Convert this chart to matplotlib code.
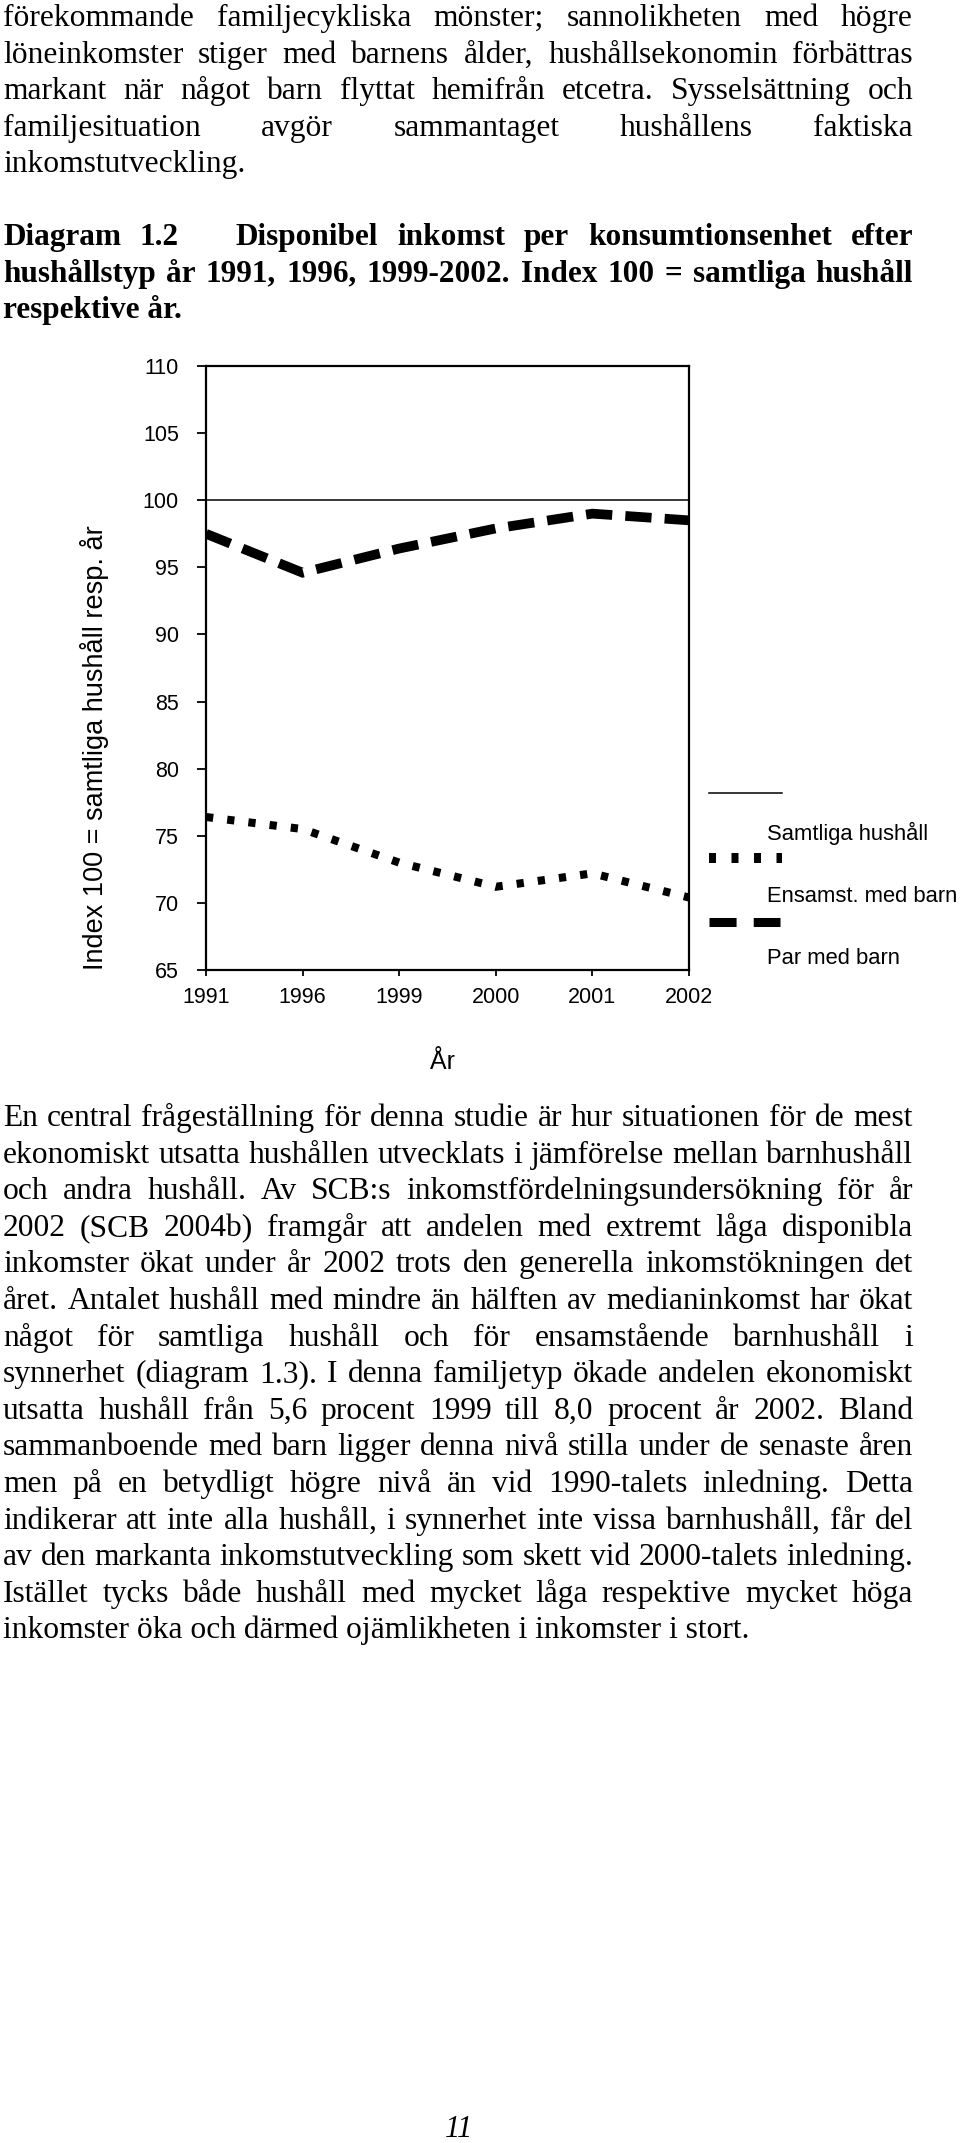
import matplotlib
matplotlib.use('Agg')
import matplotlib.pyplot as plt
from matplotlib.lines import Line2D

# ---------------- data ----------------
years = ['1991', '1996', '1999', '2000', '2001', '2002']
samtliga = [100, 100, 100, 100, 100, 100]
ensamst = [76.4, 75.5, 73.0, 71.2, 72.2, 70.4]
par_med_barn = [97.5, 94.6, 96.4, 97.9, 99.0, 98.5]
yticks = [65, 70, 75, 80, 85, 90, 95, 100, 105, 110]
series_labels = ['Samtliga hushåll', 'Ensamst. med barn', 'Par med barn']
ylabel = 'Index 100 = samtliga hushåll resp. år'
xlabel = 'År'

para1 = [
    "förekommande familjecykliska mönster; sannolikheten med högre",
    "löneinkomster stiger med barnens ålder, hushållsekonomin förbättras",
    "markant när något barn flyttat hemifrån etcetra. Sysselsättning och",
    "familjesituation avgör sammantaget hushållens faktiska",
    "inkomstutveckling.",
]
heading = [
    "Diagram 1.2  Disponibel inkomst per konsumtionsenhet efter",
    "hushållstyp år 1991, 1996, 1999-2002. Index 100 = samtliga hushåll",
    "respektive år.",
]
para2 = [
    "En central frågeställning för denna studie är hur situationen för de mest",
    "ekonomiskt utsatta hushållen utvecklats i jämförelse mellan barnhushåll",
    "och andra hushåll. Av SCB:s inkomstfördelningsundersökning för år",
    "2002 (SCB 2004b) framgår att andelen med extremt låga disponibla",
    "inkomster ökat under år 2002 trots den generella inkomstökningen det",
    "året. Antalet hushåll med mindre än hälften av medianinkomst har ökat",
    "något för samtliga hushåll och för ensamstående barnhushåll i",
    "synnerhet (diagram 1.3). I denna familjetyp ökade andelen ekonomiskt",
    "utsatta hushåll från 5,6 procent 1999 till 8,0 procent år 2002. Bland",
    "sammanboende med barn ligger denna nivå stilla under de senaste åren",
    "men på en betydligt högre nivå än vid 1990-talets inledning. Detta",
    "indikerar att inte alla hushåll, i synnerhet inte vissa barnhushåll, får del",
    "av den markanta inkomstutveckling som skett vid 2000-talets inledning.",
    "Istället tycks både hushåll med mycket låga respektive mycket höga",
    "inkomster öka och därmed ojämlikheten i inkomster i stort.",
]
page_number = "11"

# ---------------- figure ----------------
W, H = 960, 2143
fig = plt.figure(figsize=(W / 100, H / 100), dpi=100)
fig.patch.set_facecolor('white')
renderer = fig.canvas.get_renderer()

X0, X1 = 3, 913
SERIF = 'Liberation Serif'
SANS = 'Liberation Sans'


def put_line(s, yb, justify, size, weight='normal', style='normal'):
    kw = dict(fontsize=size, family=SERIF, fontweight=weight, fontstyle=style,
              va='baseline', ha='left', color='black')
    if not justify:
        fig.text(X0 / W, 1 - yb / H, s, **kw)
        return
    words, gaps = [], []
    w = 1
    for tok in s.split(' '):
        if tok == '':
            w += 2
            continue
        if words:
            gaps.append(w)
        words.append(tok)
        w = 1
    texts = [fig.text(0, 1 - yb / H, t, **kw) for t in words]
    widths = [t.get_window_extent(renderer).width for t in texts]
    unit = (X1 - X0 - sum(widths)) / max(sum(gaps), 1)
    x = X0
    for i, t in enumerate(texts):
        t.set_x(x / W)
        x += widths[i] + (unit * gaps[i] if i < len(gaps) else 0)


BODY = 22.7
for i, line in enumerate(para1):
    put_line(line, 26 + 36.6 * i, i < len(para1) - 1, BODY)

for i, line in enumerate(heading):
    put_line(line, 245 + 36.6 * i, i < len(heading) - 1, 22.5, weight='bold')

for i, line in enumerate(para2):
    put_line(line, 1126 + 36.6 * i, i < len(para2) - 1, BODY)

fig.text(459 / W, 1 - 2137 / H, page_number, fontsize=22, family=SERIF,
         fontstyle='italic', ha='center', va='baseline')

# ---------------- chart ----------------
L, R, T, B = 206, 689, 366, 970
ax = fig.add_axes([L / W, 1 - B / H, (R - L) / W, (B - T) / H])
x = list(range(len(years)))
ax.plot(x, samtliga, color='black', lw=1.1, solid_capstyle='butt')
ax.plot(x, ensamst, color='black', lw=5.8, dashes=(0.9, 1.75),
        dash_capstyle='butt', dash_joinstyle='miter')
ax.plot(x, par_med_barn, color='black', lw=7.0, dashes=(2.7, 1.35),
        dash_capstyle='butt', dash_joinstyle='miter')

ax.set_xlim(0, len(years) - 1)
ax.set_ylim(yticks[0], yticks[-1])
ax.set_xticks(x)
ax.set_xticklabels(years)
ax.set_yticks(yticks)
ax.set_yticklabels([str(v) for v in yticks])
for sp in ax.spines.values():
    sp.set_linewidth(1.6)
    sp.set_color('black')
ax.tick_params(axis='y', direction='out', length=6.5, width=1.3, pad=13,
               labelsize=15.5)
ax.tick_params(axis='x', direction='out', length=4, width=1.3, pad=8,
               labelsize=15.5)
for lab in ax.get_xticklabels() + ax.get_yticklabels():
    lab.set_family(SANS)

fig.text(95 / W, 1 - 748 / H, ylabel, rotation=90, ha='center', va='center',
         fontsize=19.5, family=SANS)
fig.text(442 / W, 1 - 1062 / H, xlabel, ha='center', va='center',
         fontsize=18, family=SANS)

# ---------------- legend (manual layout) ----------------
lx0, lx1 = 709, 782
fig.add_artist(Line2D([lx0 / W, lx1 / W], [1 - 793 / H] * 2, color='black',
                      lw=1.1, transform=fig.transFigure))
fig.add_artist(Line2D([lx0 / W, lx1 / W], [1 - 858 / H] * 2, color='black',
                      lw=7.2, dashes=(0.7, 1.55), dash_capstyle='butt',
                      transform=fig.transFigure))
fig.add_artist(Line2D([lx0 / W, (lx1 - 2) / W], [1 - 922 / H] * 2,
                      color='black', lw=6.5, dashes=(3.0, 1.9),
                      dash_capstyle='butt', transform=fig.transFigure))
for lab, yc in zip(series_labels, [833, 897, 959]):
    fig.text(767 / W, 1 - yc / H, lab, ha='left', va='center',
             fontsize=15.8, family=SANS)

fig.savefig('out.png', dpi=100, facecolor='white')
